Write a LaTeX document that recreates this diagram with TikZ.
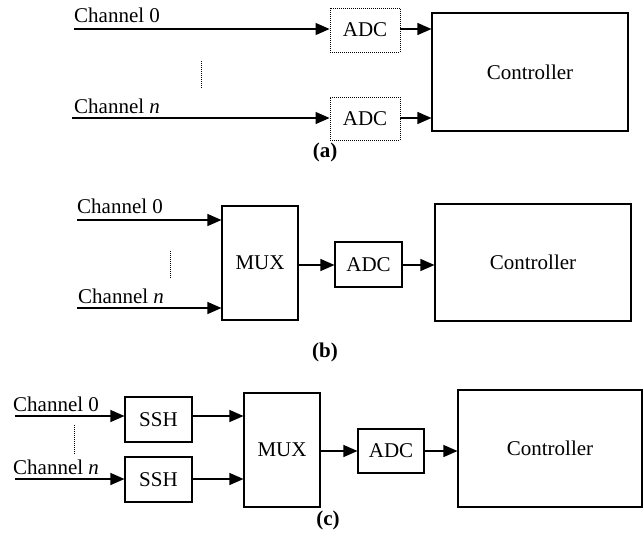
\documentclass[tikz,border=0pt]{standalone}
\usepackage{fontspec}
\setmainfont{Liberation Serif}
\usetikzlibrary{arrows.meta}
\tikzset{
  blk/.style={draw, line width=1.1pt, inner sep=0pt, font=\fontsize{21}{25}\selectfont},
  dblk/.style={blk, line width=0.9pt, dash pattern=on 1pt off 1pt},
  lbl/.style={anchor=base west, inner sep=0pt, font=\fontsize{21}{25}\selectfont},
  figcap/.style={inner sep=0pt, font=\fontsize{21}{25}\selectfont\bfseries},
  arr/.style={line width=1.2pt, -{Triangle[length=14pt,width=12pt]}},
  dots/.style={line width=0.8pt, dash pattern=on 1pt off 1pt}
}
\begin{document}
\begin{tikzpicture}[x=1pt,y=-1pt]
\useasboundingbox (0,0) rectangle (644,539);
% ---------- (a)
\node[dblk, minimum width=70pt, minimum height=44pt] (adca0) at (365,30) {ADC};
\node[dblk, minimum width=70pt, minimum height=43pt] (adcan) at (365,118.5) {ADC};
\node[blk, minimum width=196pt, minimum height=118pt] (ctla) at (530,72) {Controller};
\coordinate (a0) at (74,29);
\coordinate (an) at (72,118);
\node[lbl] (la0) at (74,22) {Channel 0};
\node[lbl] (lan) at (74,113) {Channel \textit{n}};
\draw[arr] (a0) -- (a0 -| adca0.west);
\draw[arr] (an) -- (an -| adcan.west);
\draw[arr] (adca0.east |- a0) -- (a0 -| ctla.west);
\draw[arr] (adcan.east |- an) -- (an -| ctla.west);
\coordinate (da1) at (201,61);
\coordinate (da2) at (201,88);
\draw[dots] (da1) -- (da2);
\node[figcap] (capa) at (325,152) {(a)};
% ---------- (b)
\node[blk, minimum width=76pt, minimum height=114pt] (muxb) at (260,263) {MUX};
\node[blk, minimum width=67pt, minimum height=45pt] (adcb) at (368.5,264.5) {ADC};
\node[blk, minimum width=196pt, minimum height=117pt] (ctlb) at (533,262.5) {Controller};
\coordinate (b0) at (77,220);
\coordinate (bn) at (77,308);
\coordinate (bm) at (298,265);
\node[lbl] (lb0) at (77,213) {Channel 0};
\node[lbl] (lbn) at (78,303) {Channel \textit{n}};
\draw[arr] (b0) -- (b0 -| muxb.west);
\draw[arr] (bn) -- (bn -| muxb.west);
\draw[arr] (muxb.east |- bm) -- (bm -| adcb.west);
\draw[arr] (adcb.east |- bm) -- (bm -| ctlb.west);
\coordinate (db1) at (170,251);
\coordinate (db2) at (170,279);
\draw[dots] (db1) -- (db2);
\node[figcap] (capb) at (325,352) {(b)};
% ---------- (c)
\node[blk, minimum width=67pt, minimum height=45pt] (ssh0) at (158.5,419.5) {SSH};
\node[blk, minimum width=67pt, minimum height=45pt] (sshn) at (158.5,479.5) {SSH};
\node[blk, minimum width=76pt, minimum height=114pt] (muxc) at (282,450) {MUX};
\node[blk, minimum width=66pt, minimum height=44pt] (adcc) at (391,451) {ADC};
\node[blk, minimum width=184pt, minimum height=117pt] (ctlc) at (550,448.5) {Controller};
\coordinate (c0) at (15,416);
\coordinate (cn) at (15,479);
\coordinate (cm) at (320,451);
\node[lbl] (lc0) at (13,411) {Channel 0};
\node[lbl] (lcn) at (13,474) {Channel \textit{n}};
\draw[arr] (c0) -- (c0 -| ssh0.west);
\draw[arr] (cn) -- (cn -| sshn.west);
\draw[arr] (ssh0.east |- c0) -- (c0 -| muxc.west);
\draw[arr] (sshn.east |- cn) -- (cn -| muxc.west);
\draw[arr] (muxc.east |- cm) -- (cm -| adcc.west);
\draw[arr] (adcc.east |- cm) -- (cm -| ctlc.west);
\coordinate (dc1) at (74,425);
\coordinate (dc2) at (74,455);
\draw[dots] (dc1) -- (dc2);
\node[figcap] (capc) at (328,520) {(c)};
\end{tikzpicture}
\end{document}
